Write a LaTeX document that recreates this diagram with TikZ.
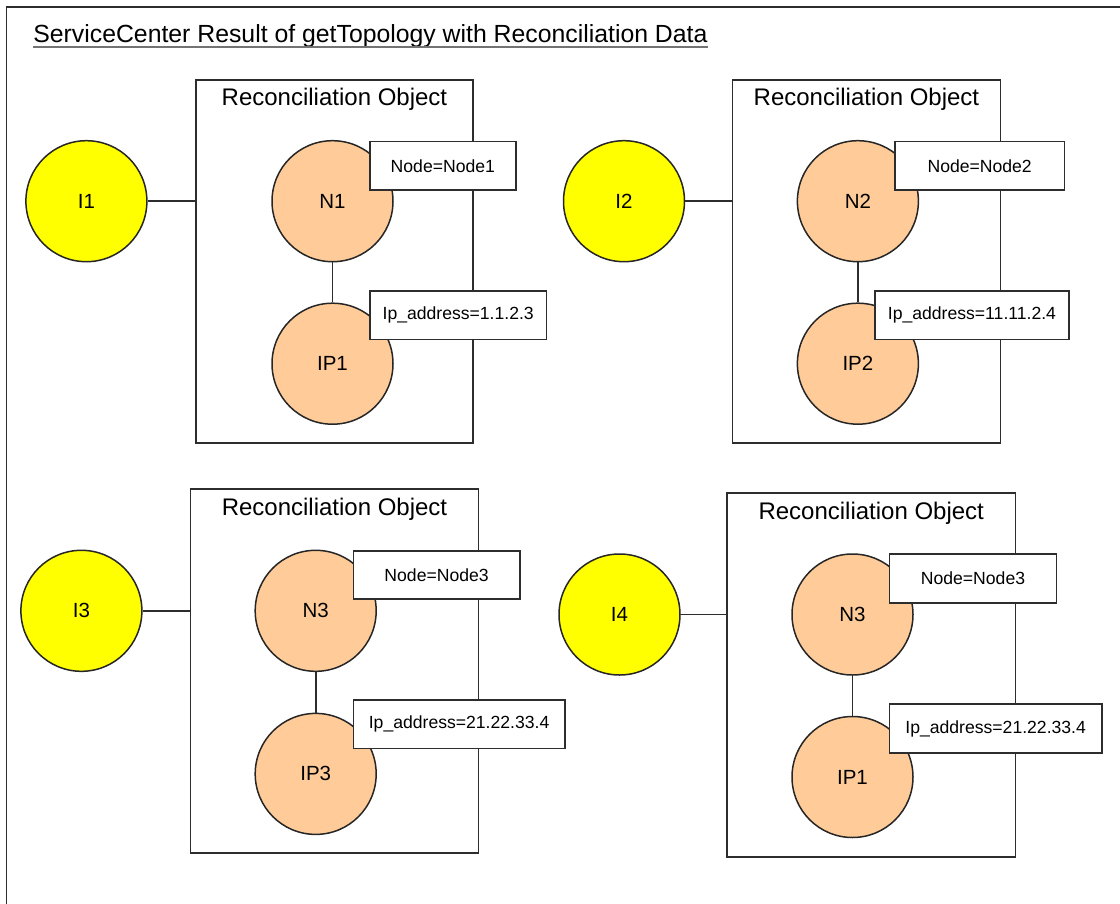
\documentclass[tikz,border=0pt]{standalone}
\usepackage{fontspec}
\setmainfont{Liberation Sans}
\usepackage{tikz}
\usetikzlibrary{positioning}
\definecolor{instyellow}{RGB}{255,255,0}
\definecolor{cipeach}{RGB}{255,204,153}
\definecolor{edgegray}{RGB}{45,45,45}

\begin{document}
\begin{tikzpicture}[
  x=1pt,y=-1pt,
  every node/.style={font=\fontsize{17.6}{20}\selectfont},
  frame/.style={draw=edgegray,line width=1.7pt},
  recobj/.style={draw=edgegray,line width=1.7pt,minimum height=363.3pt,inner sep=0pt},
  objtitle/.style={font=\fontsize{24}{28}\selectfont,anchor=base,inner sep=0pt},
  inst/.style={circle,draw=black!85,line width=1.5pt,fill=instyellow,minimum size=121pt,inner sep=0pt,font=\fontsize{20.5}{24}\selectfont},
  ci/.style={inst,fill=cipeach},
  attr/.style={draw=edgegray,line width=1.7pt,fill=white,minimum height=48.6pt,inner sep=0pt,anchor=north west},
  link/.style={draw=edgegray,line width=1.7pt}
]
\useasboundingbox (0,0) rectangle (1120,903);
\clip (0,0) rectangle (1120,903);
\draw[frame] (6.4,6.7) rectangle (1140,930);
\node[anchor=base west,inner sep=0pt,font=\fontsize{24.8}{28}\selectfont] (title) at (33.2,42.7) {ServiceCenter Result of getTopology with Reconciliation Data};
\draw[black!55,line width=1.8pt] ([yshift=-4pt]title.base west) -- ([yshift=-4pt]title.base east);

% top left
\node[recobj,minimum width=277.5pt] (obj1) at (334.45,261.65) {};
\node[objtitle] (ot1) at ([yshift=-26.7pt]obj1.north) {Reconciliation Object};
\node[inst] (i1) at (86.4,201.2) {I1};
\node[ci] (n1) at (332.5,201.2) {N1};
\node[ci,below=40pt of n1] (ip1) {IP1};
\draw[link] (i1) -- (i1 -| obj1.west);
\draw[link] (n1) -- (ip1);
\node[attr,minimum width=146pt] (lab1a) at (369,140.7) {Node=Node1};
\node[attr,minimum width=176.7pt] (lab1b) at (369,290) {Ip\_address=1.1.2.3};

% top right
\node[recobj,minimum width=267.9pt] (obj2) at (866.45,261.65) {};
\node[objtitle] (ot2) at ([yshift=-26.7pt]obj2.north) {Reconciliation Object};
\node[inst] (i2) at (624,201.2) {I2};
\node[ci] (n2) at (857.9,201.2) {N2};
\node[ci,below=40pt of n2] (ip2) {IP2};
\draw[link] (i2) -- (i2 -| obj2.west);
\draw[link] (n2) -- (ip2);
\node[attr,minimum width=169.6pt] (lab2a) at (894,140.7) {Node=Node2};
\node[attr,minimum width=193.6pt] (lab2b) at (874.3,290) {Ip\_address=11.11.2.4};

% bottom left
\node[recobj,minimum width=288.2pt,minimum height=364pt] (obj3) at (334.5,671.3) {};
\node[objtitle] (ot3) at ([yshift=-27.5pt]obj3.north) {Reconciliation Object};
\node[inst] (i3) at (81.4,610.8) {I3};
\node[ci] (n3) at (315.7,610.8) {N3};
\node[ci,below=40.6pt of n3] (ip3) {IP3};
\draw[link] (i3) -- (i3 -| obj3.west);
\draw[link] (n3) -- (ip3);
\node[attr,minimum width=166.5pt,minimum height=48.3pt] (lab3a) at (352.5,550) {Node=Node3};
\node[attr,minimum width=211.5pt,minimum height=48.3pt] (lab3b) at (352.5,699.3) {Ip\_address=21.22.33.4};

% bottom right
\node[recobj,minimum width=288.3pt,minimum height=364pt] (obj4) at (871.25,674.7) {};
\node[objtitle] (ot4) at ([yshift=-27.3pt]obj4.north) {Reconciliation Object};
\node[inst] (i4) at (619.5,614.5) {I4};
\node[ci] (n4) at (852.5,614.5) {N3};
\node[ci,below=40pt of n4] (ip4) {IP1};
\draw[link] (i4) -- (i4 -| obj4.west);
\draw[link] (n4) -- (ip4);
\node[attr,minimum width=167.1pt] (lab4a) at (888.6,553.3) {Node=Node3};
\node[attr,minimum width=212.4pt] (lab4b) at (888.6,703.3) {Ip\_address=21.22.33.4};
\end{tikzpicture}
\end{document}
